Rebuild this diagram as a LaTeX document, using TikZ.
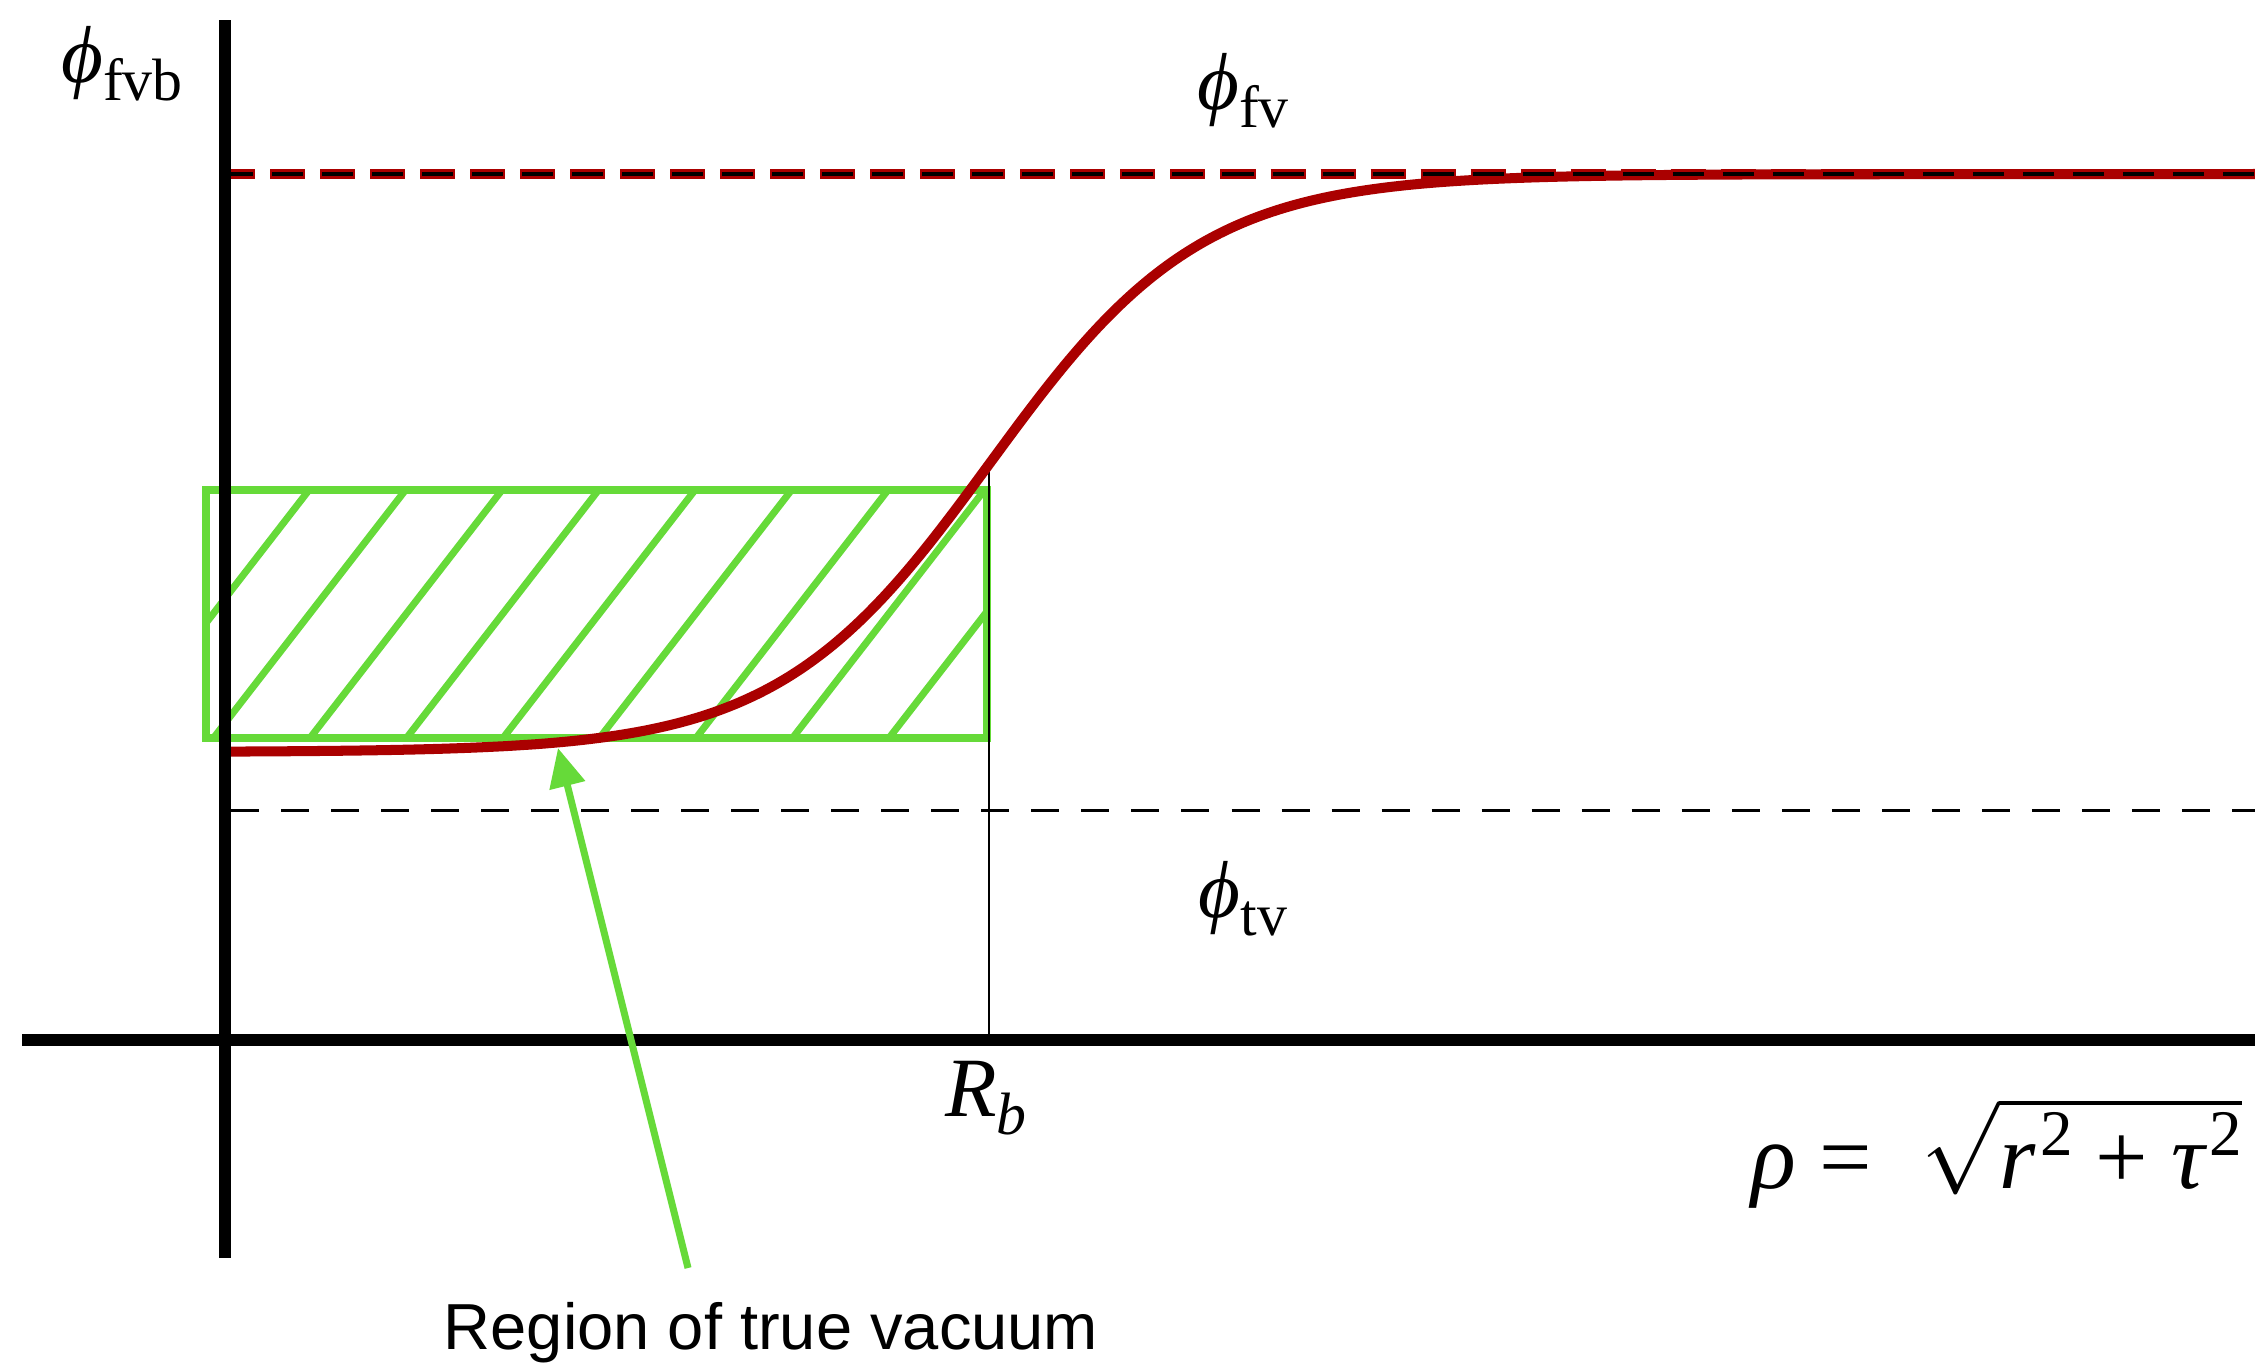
\documentclass[tikz,border=0pt]{standalone}
\usepackage{fix-cm}
\usepackage{fontspec}
\setmainfont{Liberation Serif}
\newfontfamily\sansf{Liberation Sans}
\usetikzlibrary{arrows.meta}
\definecolor{bubred}{RGB}{170,0,0}
\definecolor{hgreen}{RGB}{102,218,57}
\newcommand\lsub[1]{\raisebox{-0.22em}{\fontsize{17}{17}\selectfont #1}}
\newcommand\lsup[1]{\raisebox{0.36em}{\fontsize{18.5}{18.5}\selectfont #1}}
\newcommand\phiit{{\itshape ϕ}}
\begin{document}
\begin{tikzpicture}[x=0.01cm,y=-0.01cm,
  lab/.style={inner sep=0pt,font=\fontsize{23}{27}\selectfont},
  axisline/.style={line width=3.4pt,black},
  greenline/.style={line width=2.2pt,hgreen},
  curveline/.style={line width=2.85pt,bubred},
  reddash/.style={line width=2.85pt,bubred,dash pattern=on 35*0.2845pt off 15*0.2845pt,dash phase=11*0.2845pt},
  blackdash/.style={line width=1.1pt,black,dash pattern=on 31*0.2845pt off 19*0.2845pt,dash phase=9*0.2845pt},
  thindash/.style={line width=0.85pt,black,dash pattern=on 28*0.2845pt off 22*0.2845pt},
  pointer/.style={line width=2pt,hgreen,-{Triangle[length=11pt,width=10pt]}}]
\useasboundingbox (0,0) rectangle (2255,1366);

% hatched region
\begin{scope}
  \clip (206,490) rectangle (987,738);
  \foreach \k in {0,...,8}{
    \draw[greenline,line width=2pt] ({117+96.5*\k},738) -- ({309+96.5*\k},490);
  }
\end{scope}
\draw[greenline] (206,490) rectangle (987,738);

% thin marker at R_b
\coordinate (rbtop) at (989,463);
\coordinate (rbbot) at (989,1040);
\draw[line width=0.75pt] (rbtop) -- (rbbot);

% bounce profile
\draw[curveline,line join=round] plot[domain=230:1800,samples=220,smooth] (\x,{174+578/(1+exp((\x-990)/106))}) -- (2255,174);

% false vacuum level
\coordinate (fvL) at (231,174);
\coordinate (fvR) at (2255,174);
\draw[reddash] (fvL) -- (fvR);
\draw[blackdash] (fvL) -- (fvR);

% true vacuum level
\coordinate (tvL) at (231,810);
\coordinate (tvR) at (2255,810);
\draw[thindash] (tvL) -- (tvR);

% axes
\coordinate (ytop) at (225,20);
\coordinate (ybot) at (225,1258);
\coordinate (xl) at (22,1040);
\coordinate (xr) at (2255,1040);
\draw[axisline] (ytop) -- (ybot);
\draw[axisline] (xl) -- (xr);

% labels
\node[lab] (fvb) at (122,64) {\phiit\lsub{fvb}};
\node[lab] (fv) at (1243,91) {\phiit\lsub{fv}};
\node[lab] (tv) at (1243,899) {\phiit\lsub{tv}};
\node[lab,font=\fontsize{24}{28}\selectfont] (rb) at (986,1098) {{\itshape R}\lsub{\itshape b}};
\node[lab,anchor=east,font=\fontsize{26.5}{31}\selectfont] (rho) at (2243,1153) {{\itshape ρ} = \;$\sqrt{\hbox{\itshape r\kern0.05em\lsup{\upshape 2} {\upshape +} τ\kern0.05em\lsup{\upshape 2}}}$};
\node[inner sep=0pt,font=\sansf\fontsize{18.5}{22}\selectfont] (region) at (771,1333) {Region of true vacuum};

% pointer
\coordinate (tail) at (688,1268);
\coordinate (tip) at (558,748);
\draw[pointer] (tail) -- (tip);
\end{tikzpicture}
\end{document}
